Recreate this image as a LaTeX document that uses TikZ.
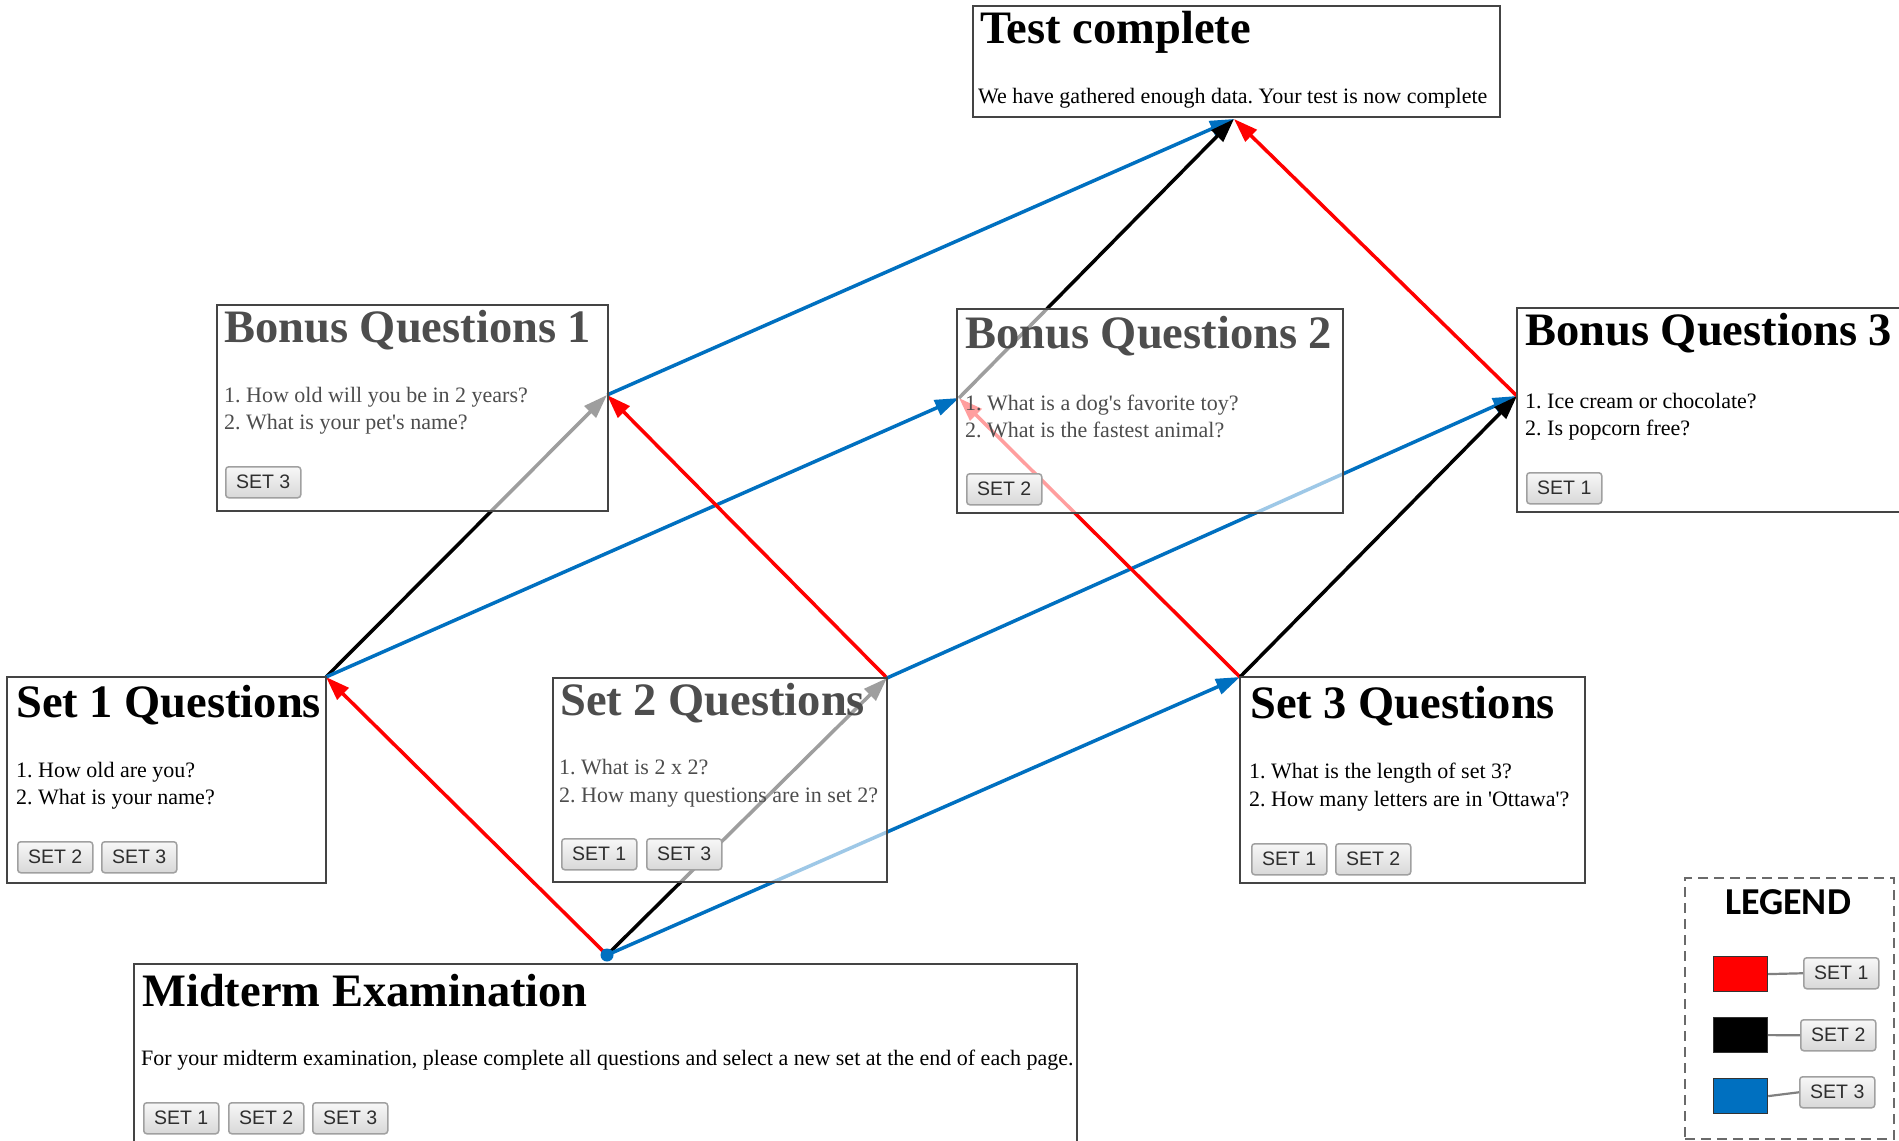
\documentclass[tikz,border=0pt]{standalone}
\usepackage{fontspec}
\setmainfont{Liberation Serif}[Ligatures=TeXOff]
\newfontfamily\btnfont{Liberation Sans}
\newfontfamily\legfont{Carlito}
\usetikzlibrary{arrows.meta}
\pgfdeclarelayer{bg}
\pgfsetlayers{bg,main}
\definecolor{cred}{HTML}{FF0000}
\definecolor{cblue}{HTML}{0070C0}
\definecolor{cblack}{HTML}{000000}
\definecolor{boxline}{HTML}{444444}
\definecolor{dimtext}{HTML}{4D4D4D}
\definecolor{btnline}{HTML}{A0A0A0}
\definecolor{btntext}{HTML}{2E2E2E}
\definecolor{legline}{HTML}{6A6A6A}
\frenchspacing
\begin{document}
\begin{tikzpicture}[x=1pt,y=-1pt,
 pagebox/.style={rectangle, draw=boxline, line width=2pt, fill=white, fill opacity=0.62, anchor=north west, inner sep=0pt, outer sep=0pt},
 ttl/.style={anchor=base west, inner sep=0pt, font=\bfseries\fontsize{46.5pt}{50pt}\selectfont},
 txt/.style={anchor=base west, inner sep=0pt, font=\fontsize{22pt}{26pt}\selectfont},
 dim/.style={text=dimtext},
 btn/.style={rectangle, draw=btnline, line width=1.5pt, rounded corners=3pt, top color=white!97!black, bottom color=white!85!black, anchor=north west, minimum width=75pt, minimum height=31pt, inner sep=0pt, text=btntext, font=\btnfont\fontsize{19.5pt}{22pt}\selectfont},
 conn/.style={line width=3.5pt, -{Triangle[length=24pt,width=16pt]}},
 swatch/.style={rectangle, draw=black!80, line width=1.2pt, anchor=north west, minimum width=54pt, minimum height=35pt, inner sep=0pt},
 legwire/.style={draw=black!50, line width=2.2pt},
]
\useasboundingbox (0,0) rectangle (1899,1141);

% ---------- page boxes ----------
\node[pagebox, minimum width=527pt, minimum height=111pt] (test) at (973,6) {};
\node[pagebox, minimum width=391pt, minimum height=206pt] (bonus1) at (217,305) {};
\node[pagebox, minimum width=386pt, minimum height=204pt] (bonus2) at (957,309) {};
\node[pagebox, minimum width=390pt, minimum height=204pt] (bonus3) at (1517,308) {};
\node[pagebox, minimum width=319pt, minimum height=206pt] (set1) at (7,677) {};
\node[pagebox, minimum width=334pt, minimum height=204pt] (set2) at (553,678) {};
\node[pagebox, minimum width=345pt, minimum height=206pt] (set3) at (1240,677) {};
\node[pagebox, minimum width=943pt, minimum height=200pt] (mid) at (134,964) {};

% ---------- Test complete ----------
\node[ttl] (testt) at (980,43) {Test complete};
\node[txt] (testb) at (978,103) {We have gathered enough data. Your test is now complete};

% ---------- Bonus 1 ----------
\node[ttl, dim] (b1t) at (224,342) {Bonus Questions 1};
\node[txt, dim] (b1q1) at (224,402) {1. How old will you be in 2 years?};
\node[txt, dim] (b1q2) at (224,429) {2. What is your pet's name?};
\node[btn] (b1s3) at (225,466) {SET 3};

% ---------- Bonus 2 ----------
\node[ttl, dim] (b2t) at (965,348) {Bonus Questions 2};
\node[txt, dim] (b2q1) at (965,410) {1. What is a dog's favorite toy?};
\node[txt, dim] (b2q2) at (965,437) {2. What is the fastest animal?};
\node[btn] (b2s2) at (966,473) {SET 2};

% ---------- Bonus 3 ----------
\node[ttl] (b3t) at (1525,345) {Bonus Questions 3};
\node[txt] (b3q1) at (1525,408) {1. Ice cream or chocolate?};
\node[txt] (b3q2) at (1525,435) {2. Is popcorn free?};
\node[btn] (b3s1) at (1526,472) {SET 1};

% ---------- Set 1 ----------
\node[ttl] (s1t) at (16,717) {Set 1 Questions};
\node[txt] (s1q1) at (16,777) {1. How old are you?};
\node[txt] (s1q2) at (16,804) {2. What is your name?};
\node[btn] (s1b2) at (17,841) {SET 2};
\node[btn] (s1b3) at (101,841) {SET 3};

% ---------- Set 2 ----------
\node[ttl, dim] (s2t) at (560,715) {Set 2 Questions};
\node[txt, dim] (s2q1) at (559,774) {1. What is 2 x 2?};
\node[txt, dim] (s2q2) at (559,802) {2. How many questions are in set 2?};
\node[btn] (s2b1) at (561,838) {SET 1};
\node[btn] (s2b3) at (646,838) {SET 3};

% ---------- Set 3 ----------
\node[ttl] (s3t) at (1250,718) {Set 3 Questions};
\node[txt] (s3q1) at (1249,778) {1. What is the length of set 3?};
\node[txt] (s3q2) at (1249,806) {2. How many letters are in 'Ottawa'?};
\node[btn] (s3b1) at (1251,843) {SET 1};
\node[btn] (s3b2) at (1335,843) {SET 2};

% ---------- Midterm ----------
\node[ttl] (midt) at (142,1006) {Midterm Examination};
\node[txt] (midb) at (141,1065) {For your midterm examination, please complete all questions and select a new set at the end of each page.};
\node[btn] (mb1) at (143,1102) {SET 1};
\node[btn] (mb2) at (228,1102) {SET 2};
\node[btn] (mb3) at (312,1102) {SET 3};

% ---------- connection points ----------
\node[circle, fill=cblue, inner sep=0pt, minimum size=13pt] (mdot) at (607,955) {};
\coordinate (b1p) at (607,395);
\coordinate (b2p) at (959,398);
\coordinate (b3p) at (1517,396);
\coordinate (tp) at (1234,119);

% ---------- connectors (under the semi-transparent pages) ----------
\begin{pgfonlayer}{bg}
\fill[white] (0,0) rectangle (1899,1141);
\draw[conn, cred] (mdot.center) -- (set1.north east);
\draw[conn, cblack] (mdot.center) -- (set2.north east);
\draw[conn, cblue] (mdot.center) -- (set3.north west);
\draw[conn, cblack] (set1.north east) -- (b1p);
\draw[conn, cblue] (set1.north east) -- (b2p);
\draw[conn, cred] (set2.north east) -- (b1p);
\draw[conn, cblue] (set2.north east) -- (b3p);
\draw[conn, cred] (set3.north west) -- (b2p);
\draw[conn, cblack] (set3.north west) -- (b3p);
\draw[conn, cblue] (b1p) -- (tp);
\draw[conn, cblack] (b2p) -- (tp);
\draw[conn, cred] (b3p) -- (tp);
\end{pgfonlayer}

% ---------- legend ----------
\node[rectangle, draw=legline, line width=2pt, dash pattern=on 10pt off 6pt, anchor=north west, minimum width=209pt, minimum height=261pt, inner sep=0pt] (legend) at (1684,877) {};
\node[inner sep=0pt, font=\legfont\bfseries\fontsize{38pt}{40pt}\selectfont] (legt) at (1788,902) {LEGEND};
\node[swatch, fill=cred] (sw1) at (1713,956) {};
\node[swatch, fill=cblack] (sw2) at (1713,1017) {};
\node[swatch, fill=cblue] (sw3) at (1713,1078) {};
\node[btn] (lb1) at (1803,957) {SET 1};
\node[btn] (lb2) at (1800,1019) {SET 2};
\node[btn] (lb3) at (1799,1076) {SET 3};
\draw[legwire] (sw1.east) -- (lb1.west);
\draw[legwire] (sw2.east) -- (lb2.west);
\draw[legwire] (sw3.east) -- (lb3.west);
\end{tikzpicture}
\end{document}
